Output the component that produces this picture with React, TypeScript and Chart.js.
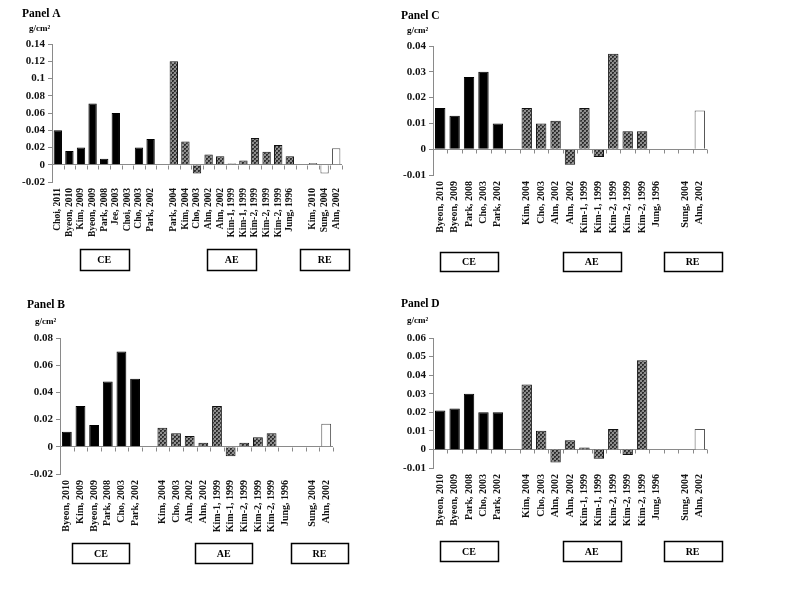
import React, { useEffect, useRef } from 'react';
import { Chart, registerables } from 'chart.js';

Chart.register(...registerables);

// ---------- Data ----------
const panelALabels = ['Choi, 2011', 'Byeon, 2010', 'Kim, 2009', 'Byeon, 2009', 'Park, 2008', 'Jee, 2003', 'Choi, 2003', 'Cho, 2003', 'Park, 2002', '',
  'Park, 2004', 'Kim, 2004', 'Cho, 2003', 'Ahn, 2002', 'Ahn, 2002', 'Kim-1, 1999', 'Kim-1, 1999', 'Kim-2, 1999', 'Kim-2, 1999', 'Kim-2, 1999', 'Jung, 1996', '',
  'Kim, 2010', 'Sung, 2004', 'Ahn, 2002'];
const panelAValues = [0.040, 0.016, 0.020, 0.071, 0.007, 0.060, 0, 0.020, 0.030, null,
  0.120, 0.027, -0.010, 0.012, 0.010, 0.0015, 0.005, 0.031, 0.015, 0.023, 0.010, null,
  0.002, -0.010, 0.019];
const panelAGroups = ['CE', 'CE', 'CE', 'CE', 'CE', 'CE', 'CE', 'CE', 'CE', '',
  'AE', 'AE', 'AE', 'AE', 'AE', 'AE', 'AE', 'AE', 'AE', 'AE', 'AE', '',
  'RE', 'RE', 'RE'];

const panelBLabels = ['Byeon, 2010', 'Kim, 2009', 'Byeon, 2009', 'Park, 2008', 'Cho, 2003', 'Park, 2002', '',
  'Kim, 2004', 'Cho, 2003', 'Ahn, 2002', 'Ahn, 2002', 'Kim-1, 1999', 'Kim-1, 1999', 'Kim-2, 1999', 'Kim-2, 1999', 'Kim-2, 1999', 'Jung, 1996', '',
  'Sung, 2004', 'Ahn, 2002'];
const panelBValues = [0.011, 0.030, 0.016, 0.048, 0.070, 0.050, null,
  0.014, 0.010, 0.008, 0.003, 0.030, -0.007, 0.003, 0.007, 0.010, 0, null,
  0, 0.017];
const panelBGroups = ['CE', 'CE', 'CE', 'CE', 'CE', 'CE', '',
  'AE', 'AE', 'AE', 'AE', 'AE', 'AE', 'AE', 'AE', 'AE', 'AE', '',
  'RE', 'RE'];

const panelCLabels = ['Byeon, 2010', 'Byeon, 2009', 'Park, 2008', 'Cho, 2003', 'Park, 2002', '',
  'Kim, 2004', 'Cho, 2003', 'Ahn, 2002', 'Ahn, 2002', 'Kim-1, 1999', 'Kim-1, 1999', 'Kim-2, 1999', 'Kim-2, 1999', 'Kim-2, 1999', 'Jung, 1996', '',
  'Sung, 2004', 'Ahn, 2002'];
const panelCValues = [0.016, 0.013, 0.028, 0.030, 0.010, null,
  0.016, 0.010, 0.011, -0.006, 0.016, -0.003, 0.037, 0.007, 0.007, 0, null,
  0, 0.015];
const panelCGroups = ['CE', 'CE', 'CE', 'CE', 'CE', '',
  'AE', 'AE', 'AE', 'AE', 'AE', 'AE', 'AE', 'AE', 'AE', 'AE', '',
  'RE', 'RE'];

const panelDLabels = ['Byeon, 2010', 'Byeon, 2009', 'Park, 2008', 'Cho, 2003', 'Park, 2002', '',
  'Kim, 2004', 'Cho, 2003', 'Ahn, 2002', 'Ahn, 2002', 'Kim-1, 1999', 'Kim-1, 1999', 'Kim-2, 1999', 'Kim-2, 1999', 'Kim-2, 1999', 'Jung, 1996', '',
  'Sung, 2004', 'Ahn, 2002'];
const panelDValues = [0.021, 0.022, 0.030, 0.020, 0.020, null,
  0.035, 0.010, -0.007, 0.005, 0.001, -0.005, 0.011, -0.003, 0.048, 0, null,
  0, 0.011];
const panelDGroups = panelCGroups;

const groupNames = ['CE', 'AE', 'RE'];
const unitLabel = 'g/cm²';

// ---------- Styling / layout ----------
const SERIF = '"Liberation Serif", "Times New Roman", serif';
const AXIS_GRAY = '#8a8a8a';

type Panel = {
  title: string; labels: string[]; values: (number | null)[]; groups: string[];
  min: number; max: number; step: number;
  left: number; top: number;
  yWidth: number; padRight: number; padTop: number; padBottom: number;
  xFont: number;
  titleX: number; titleY: number; unitX: number; unitY: number;
  boxTop: number; boxW: number; boxH: number;
};

const panels: Panel[] = [
  { title: 'Panel A', labels: panelALabels, values: panelAValues, groups: panelAGroups,
    min: -0.02, max: 0.14, step: 0.02, left: 0, top: 0,
    yWidth: 52, padRight: 58, padTop: 44, padBottom: 58, xFont: 9.5,
    titleX: 22, titleY: 17, unitX: 29, unitY: 31, boxTop: 249, boxW: 49, boxH: 21 },
  { title: 'Panel C', labels: panelCLabels, values: panelCValues, groups: panelCGroups,
    min: -0.01, max: 0.04, step: 0.01, left: 400, top: 0,
    yWidth: 33, padRight: 93, padTop: 46, padBottom: 65, xFont: 10,
    titleX: 1, titleY: 19, unitX: 7, unitY: 33, boxTop: 252, boxW: 58, boxH: 19 },
  { title: 'Panel B', labels: panelBLabels, values: panelBValues, groups: panelBGroups,
    min: -0.02, max: 0.08, step: 0.02, left: 0, top: 290,
    yWidth: 60, padRight: 67, padTop: 48, padBottom: 56, xFont: 10,
    titleX: 27, titleY: 18, unitX: 35, unitY: 34, boxTop: 253, boxW: 57, boxH: 20 },
  { title: 'Panel D', labels: panelDLabels, values: panelDValues, groups: panelDGroups,
    min: -0.01, max: 0.06, step: 0.01, left: 400, top: 290,
    yWidth: 33, padRight: 93, padTop: 48, padBottom: 62, xFont: 10,
    titleX: 1, titleY: 17, unitX: 7, unitY: 33, boxTop: 251, boxW: 58, boxH: 20 },
];

function makePatternCanvas() {
  const c = document.createElement('canvas');
  c.width = 4; c.height = 4;
  const g = c.getContext('2d')!;
  g.fillStyle = '#8e8e8e';
  g.fillRect(0, 0, 4, 4);
  g.fillStyle = '#2e2e2e';
  g.fillRect(0, 0, 2, 2);
  g.fillRect(2, 2, 2, 2);
  g.fillStyle = '#555555';
  g.fillRect(1, 1, 1, 1);
  g.fillRect(3, 3, 1, 1);
  return c;
}

function decorPlugin(p: Panel) {
  return {
    id: 'decor',
    afterDraw(chart: any) {
      const ctx = chart.ctx as CanvasRenderingContext2D;
      const xs = chart.scales.x;
      const ys = chart.scales.y;
      const y0 = Math.round(ys.getPixelForValue(0)) + 0.5;
      const n = p.labels.length;
      const step = (xs.right - xs.left) / n;
      ctx.save();
      // category tick marks under the zero line
      ctx.strokeStyle = AXIS_GRAY;
      ctx.lineWidth = 1;
      ctx.beginPath();
      for (let i = 1; i <= n; i++) {
        const px = Math.round(xs.left + i * step) + 0.5;
        ctx.moveTo(px, y0);
        ctx.lineTo(px, y0 + 4);
      }
      ctx.stroke();
      // title and unit
      ctx.fillStyle = '#000';
      ctx.textAlign = 'left';
      ctx.textBaseline = 'alphabetic';
      ctx.font = `bold 11.5px ${SERIF}`;
      ctx.fillText(p.title, p.titleX, p.titleY);
      ctx.font = `bold 9px ${SERIF}`;
      ctx.fillText(unitLabel, p.unitX, p.unitY);
      // group boxes
      ctx.lineWidth = 1.5;
      ctx.strokeStyle = '#000';
      ctx.font = `bold 10px ${SERIF}`;
      ctx.textAlign = 'center';
      ctx.textBaseline = 'middle';
      for (const g of groupNames) {
        const first = p.groups.indexOf(g);
        const last = p.groups.lastIndexOf(g);
        if (first < 0) continue;
        const cx = (xs.getPixelForValue(first) + xs.getPixelForValue(last)) / 2;
        const bx = Math.round(cx - p.boxW / 2) + 0.5;
        ctx.fillStyle = '#fff';
        ctx.fillRect(bx, p.boxTop + 0.5, p.boxW, p.boxH);
        ctx.strokeRect(bx, p.boxTop + 0.5, p.boxW, p.boxH);
        ctx.fillStyle = '#000';
        ctx.fillText(g, cx, p.boxTop + p.boxH / 2 + 1);
      }
      ctx.restore();
    },
  };
}

function buildChart(canvas: HTMLCanvasElement, p: Panel, patternCanvas: HTMLCanvasElement) {
  const ctx = canvas.getContext('2d')!;
  const pattern = ctx.createPattern(patternCanvas, 'repeat');
  const bg = p.groups.map((g) => (g === 'CE' ? '#000000' : g === 'AE' ? pattern : '#ffffff'));
  const bc = p.groups.map((g) => (g === 'CE' ? '#000000' : g === 'AE' ? '#111111' : '#555555'));
  return new Chart(ctx, {
    type: 'bar',
    data: {
      labels: p.labels,
      datasets: [{
        data: p.values as any,
        backgroundColor: bg as any,
        borderColor: bc,
        borderWidth: 1,
        categoryPercentage: 1,
        barPercentage: 0.72,
      }],
    },
    options: {
      responsive: false,
      animation: false,
      layout: { padding: { left: 0, right: p.padRight, top: p.padTop, bottom: p.padBottom } },
      plugins: { legend: { display: false }, tooltip: { enabled: false }, title: { display: false } },
      scales: {
        x: {
          grid: { display: false, drawTicks: false },
          border: { display: false },
          ticks: {
            autoSkip: false, maxRotation: 90, minRotation: 90, padding: 6, color: '#111',
            font: { family: SERIF, weight: 'bold', size: p.xFont },
          },
          afterFit: (s: any) => { s.height = 60; },
        },
        y: {
          min: p.min, max: p.max,
          ticks: {
            stepSize: p.step, color: '#111', padding: 3,
            font: { family: SERIF, weight: 'bold', size: 11 },
            callback: (v: any) => String(+Number(v).toFixed(3)),
          },
          grid: {
            drawOnChartArea: true,
            color: (c: any) => (c.tick && Math.abs(c.tick.value) < 1e-9 ? AXIS_GRAY : 'rgba(0,0,0,0)'),
            tickColor: AXIS_GRAY,
            tickLength: 4,
            lineWidth: 1,
          },
          border: { display: true, color: AXIS_GRAY, width: 1 },
          afterFit: (s: any) => { s.width = p.yWidth; },
        },
      },
    } as any,
    plugins: [decorPlugin(p)],
  });
}

export default function App() {
  const canvases = useRef<(HTMLCanvasElement | null)[]>([]);
  useEffect(() => {
    const pc = makePatternCanvas();
    const charts = panels.map((p, i) => buildChart(canvases.current[i]!, p, pc));
    return () => charts.forEach((c) => c.destroy());
  }, []);
  return (
    <div style={{ position: 'absolute', left: 0, top: 0, width: 800, height: 598, background: '#fff', overflow: 'hidden' }}>
      {panels.map((p, i) => (
        <canvas
          key={p.title}
          ref={(el) => { canvases.current[i] = el; }}
          width={400}
          height={300}
          style={{ position: 'absolute', left: p.left, top: p.top, width: 400, height: 300 }}
        />
      ))}
    </div>
  );
}
